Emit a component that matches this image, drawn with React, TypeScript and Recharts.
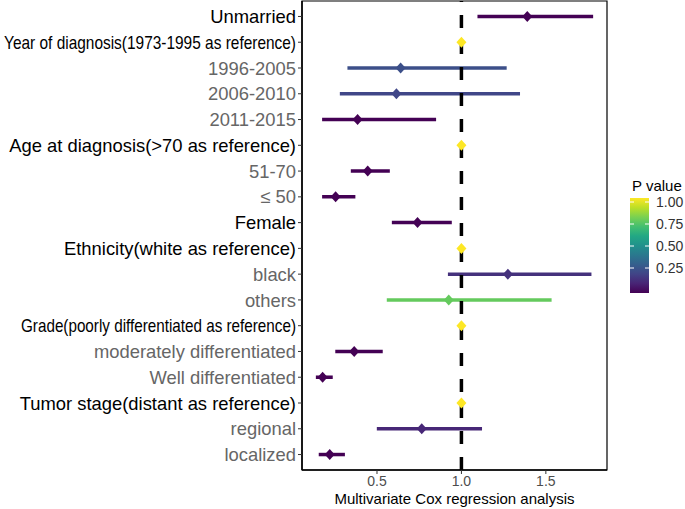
import React from 'react';
import { ScatterChart, Scatter, ErrorBar, XAxis, YAxis, ReferenceLine, ReferenceArea, Legend } from 'recharts';

const labels = [
  'Unmarried',
  'Year of diagnosis(1973-1995 as reference)',
  '1996-2005',
  '2006-2010',
  '2011-2015',
  'Age at diagnosis(>70 as reference)',
  '51-70',
  '≤ 50',
  'Female',
  'Ethnicity(white as reference)',
  'black',
  'others',
  'Grade(poorly differentiated as reference)',
  'moderately differentiated',
  'Well differentiated',
  'Tumor stage(distant as reference)',
  'regional',
  'localized',
];
const headers = [true, true, false, false, false, true, false, false, true, true, false, false, true, false, false, true, false, false];
const hr = [1.39, 1, 0.64, 0.615, 0.385, 1, 0.445, 0.255, 0.74, 1, 1.275, 0.925, 1, 0.365, 0.178, 1, 0.765, 0.22];
const lower = [1.095, 1, 0.325, 0.28, 0.175, 1, 0.345, 0.175, 0.588, 1, 0.92, 0.558, 1, 0.253, 0.138, 1, 0.499, 0.155];
const upper = [1.78, 1, 1.268, 1.347, 0.85, 1, 0.576, 0.372, 0.943, 1, 1.77, 1.534, 1, 0.534, 0.238, 1, 1.122, 0.31];
const pValues = [0.001, 1, 0.24, 0.21, 0.001, 1, 0, 0, 0.002, 1, 0.14, 0.76, 1, 0, 0, 1, 0.11, 0];
const xTicks = [0.5, 1, 1.5];
const legendTicks = [0.25, 0.5, 0.75, 1];

// viridis palette
const viridis = ['#440154', '#482475', '#414487', '#355f8d', '#2a788e', '#21918c', '#22a884', '#44bf70', '#7ad151', '#bddf26', '#fde725'];

const hexToRgb = (h: string) => [1, 3, 5].map((i) => parseInt(h.slice(i, i + 2), 16));
const pColor = (p: number) => {
  const t = Math.max(0, Math.min(1, p)) * (viridis.length - 1);
  const i = Math.min(Math.floor(t), viridis.length - 2);
  const f = t - i;
  const a = hexToRgb(viridis[i]);
  const b = hexToRgb(viridis[i + 1]);
  const c = a.map((v, k) => Math.round(v + (b[k] - v) * f));
  return `rgb(${c[0]},${c[1]},${c[2]})`;
};

const rows = labels.map((label, i) => ({
  pos: i,
  label,
  hr: hr[i],
  lo: lower[i],
  hi: upper[i],
  p: pValues[i],
}));

const lo = Math.min(...lower);
const hi = Math.max(...upper);
const pad = (hi - lo) * 0.05;
const xDomain: [number, number] = [lo - pad, hi + pad];
const yDomain: [number, number] = [-0.6, labels.length - 0.4];

const font = '"Liberation Sans", Arial, sans-serif';

// a few long labels are drawn narrower in the original
const squeeze: Record<string, number> = {
  'Year of diagnosis(1973-1995 as reference)': 292,
  'Grade(poorly differentiated as reference)': 275,
};

const YTick = (props: any) => {
  const { x, y, payload } = props;
  const i = payload.value;
  const text = labels[i];
  const w = squeeze[text];
  return (
    <text
      x={x}
      y={y}
      dy="0.36em"
      textAnchor="end"
      fontSize={18.4}
      fontFamily={font}
      fill={headers[i] ? '#000' : '#666'}
      textLength={w}
      lengthAdjust={w ? 'spacingAndGlyphs' : undefined}
    >
      {text}
    </text>
  );
};

const Diamond = (props: any) => {
  const { cx, cy, fill } = props;
  return <polygon points={`${cx},${cy - 5.5} ${cx + 5},${cy} ${cx},${cy + 5.5} ${cx - 5},${cy}`} fill={fill} />;
};

const ColorBar = () => {
  const top = 22;
  const h = 95;
  const yOf = (v: number) => 114 - v * 88;
  return (
    <svg width={60} height={125} style={{ display: 'block' }}>
      <defs>
        <linearGradient id="pv" x1="0" y1="1" x2="0" y2="0">
          {viridis.map((c, i) => (
            <stop key={i} offset={i / (viridis.length - 1)} stopColor={c} />
          ))}
        </linearGradient>
      </defs>
      <text x={7} y={15} fontSize={15} fontFamily={font} fill="#000">P value</text>
      <rect x={5} y={top} width={19} height={h} fill="url(#pv)" />
      {legendTicks.map((v) => (
        <g key={v}>
          <line x1={5} x2={9} y1={yOf(v)} y2={yOf(v)} stroke="#fff" strokeWidth={1} />
          <line x1={20} x2={24} y1={yOf(v)} y2={yOf(v)} stroke="#fff" strokeWidth={1} />
          <text x={31} y={yOf(v)} dy="0.36em" fontSize={14} fontFamily={font} fill="#333">
            {v.toFixed(2)}
          </text>
        </g>
      ))}
    </svg>
  );
};

export default function App() {
  return (
    <div style={{ position: 'absolute', left: 0, top: 0, background: '#fff' }}>
      <ScatterChart width={685} height={509} margin={{ top: 1, right: 78, bottom: 0, left: 0 }}>
        <XAxis
          type="number"
          dataKey="hr"
          domain={xDomain}
          ticks={xTicks}
          tickFormatter={(v: number) => v.toFixed(1)}
          allowDataOverflow
          height={39}
          tickSize={4}
          tickLine={{ stroke: '#333' }}
          axisLine={{ stroke: '#000', strokeWidth: 1.5 }}
          tick={{ fontSize: 14, fill: '#4d4d4d', fontFamily: font }}
          label={{ value: 'Multivariate Cox regression analysis', position: 'insideBottom', offset: 5, fontSize: 15, fill: '#000', fontFamily: font }}
        />
        <YAxis
          type="number"
          dataKey="pos"
          domain={yDomain}
          reversed
          ticks={rows.map((r) => r.pos)}
          interval={0}
          allowDataOverflow
          width={302}
          tickSize={4}
          tickMargin={2}
          tickLine={{ stroke: '#333' }}
          axisLine={{ stroke: '#000', strokeWidth: 1.5 }}
          tick={<YTick />}
        />
        <ReferenceArea x1={xDomain[0]} x2={xDomain[1]} y1={yDomain[0]} y2={yDomain[1]} fill="none" stroke="#000" strokeWidth={1.2} />
        {rows.map((r) => (
          <Scatter key={r.pos} data={[r]} fill={pColor(r.p)} shape={<Diamond />} isAnimationActive={false}>
            <ErrorBar
              direction="x"
              dataKey={(d: any) => [d.hr - d.lo, d.hi - d.hr]}
              width={0}
              stroke={pColor(r.p)}
              strokeWidth={3.5}
              isAnimationActive={false}
            />
          </Scatter>
        ))}
        <ReferenceLine x={1} stroke="#000" strokeWidth={3.5} strokeDasharray="13 13" />
        <Legend
          layout="vertical"
          align="center"
          verticalAlign="middle"
          content={<ColorBar />}
          wrapperStyle={{ left: 625, top: 176, width: 60 }}
        />
      </ScatterChart>
    </div>
  );
}
